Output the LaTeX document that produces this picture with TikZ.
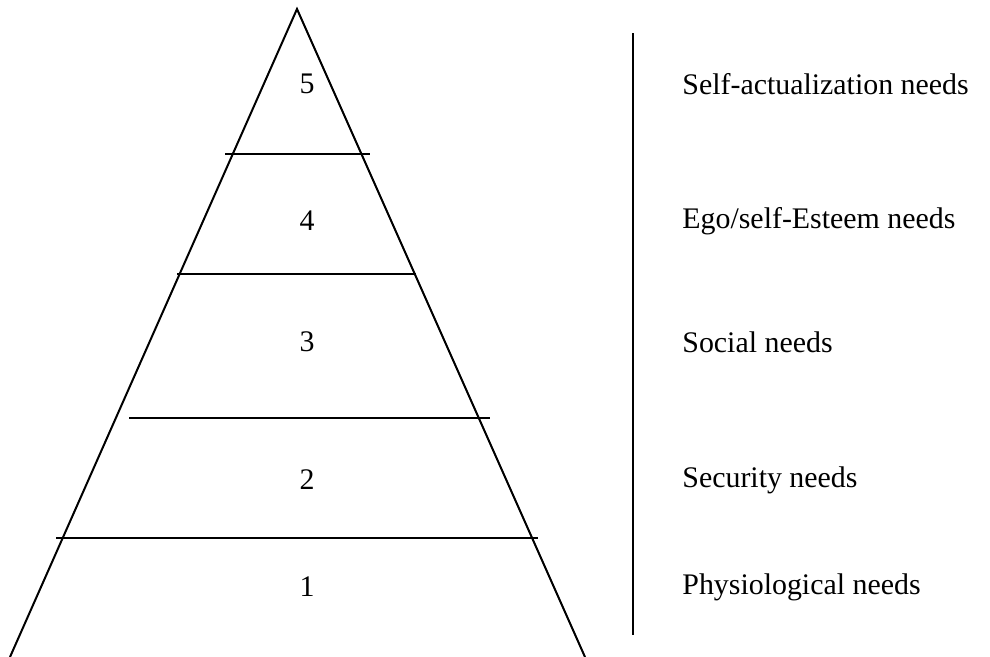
\documentclass[tikz,border=0pt]{standalone}
\usepackage{fontspec}
\setmainfont{Liberation Serif}
\usepackage{tikz}
\usetikzlibrary{positioning}

\begin{document}
\begin{tikzpicture}[scale=0.5]
\tikzset{level/.style={inner sep=0pt,font=\fontsize{15}{18}\selectfont},
         need/.style={level,anchor=west},
         rule/.style={line width=1pt}}
\useasboundingbox (0bp,0bp) rectangle (990bp,-657bp);

% pyramid
\coordinate (top) at (297bp,-9bp);
\coordinate (bl) at (10bp,-657bp);
\coordinate (br) at (585bp,-657bp);
\draw [rule] (bl) -- (top) -- (br);

% level lines
\coordinate (L4a) at (225bp,-154bp);
\coordinate (L4b) at (370bp,-154bp);
\coordinate (L3a) at (177bp,-274bp);
\coordinate (L3b) at (416bp,-274bp);
\coordinate (L2a) at (129bp,-418bp);
\coordinate (L2b) at (490bp,-418bp);
\coordinate (L1a) at (56bp,-538bp);
\coordinate (L1b) at (538bp,-538bp);
\draw [rule] (L4a) -- (L4b);
\draw [rule] (L3a) -- (L3b);
\draw [rule] (L2a) -- (L2b);
\draw [rule] (L1a) -- (L1b);

% numbers
\node (N5) at (307bp,-84bp)[level] {5};
\node (N4) at (307bp,-221bp)[level] {4};
\node (N3) at (307bp,-342bp)[level] {3};
\node (N2) at (307bp,-480bp)[level] {2};
\node (N1) at (307bp,-587bp)[level] {1};

% separator
\coordinate (S1) at (633bp,-33bp);
\coordinate (S2) at (633bp,-635bp);
\draw [rule] (S1) -- (S2);

% names
\node (T5) at (682bp,-84bp)[need] {Self-actualization needs};
\node (T4) at (682bp,-221bp)[need] {Ego/self-Esteem needs};
\node (T3) at (682bp,-342bp)[need] {Social needs};
\node (T2) at (682bp,-480bp)[need] {Security needs};
\node (T1) at (682bp,-587bp)[need] {Physiological needs};
\end{tikzpicture}
\end{document}
